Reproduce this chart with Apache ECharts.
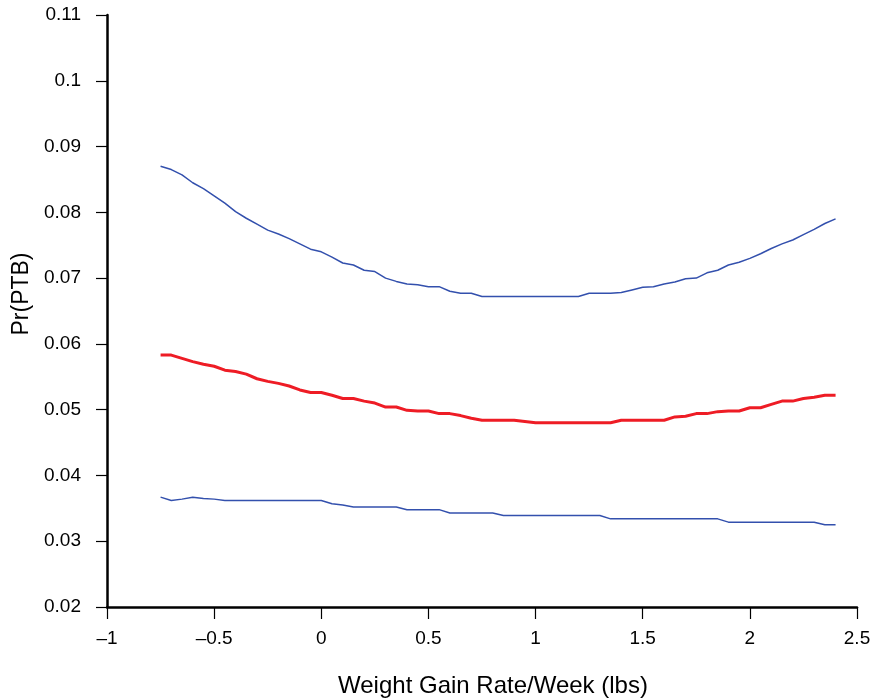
<!DOCTYPE html>
<html>
<head>
<meta charset="utf-8">
<script src="https://cdn.jsdelivr.net/npm/echarts@6/dist/echarts.min.js"></script>
<style>html,body{margin:0;padding:0;background:#fff}#c{width:880px;height:700px}</style>
</head>
<body>
<div id="c"></div>
<script>
var xValues = [-0.75,-0.70,-0.65,-0.60,-0.55,-0.50,-0.45,-0.40,-0.35,-0.30,-0.25,-0.20,-0.15,-0.10,-0.05,
  0.00,0.05,0.10,0.15,0.20,0.25,0.30,0.35,0.40,0.45,0.50,0.55,0.60,0.65,0.70,0.75,0.80,0.85,0.90,0.95,
  1.00,1.05,1.10,1.15,1.20,1.25,1.30,1.35,1.40,1.45,1.50,1.55,1.60,1.65,1.70,1.75,1.80,1.85,1.90,1.95,
  2.00,2.05,2.10,2.15,2.20,2.25,2.30,2.35,2.40];
var upperCI = [0.0870,0.0865,0.0857,0.0845,0.0836,0.0825,0.0814,0.0801,0.0791,0.0782,0.0773,0.0767,0.0760,0.0752,0.0744,
  0.0740,0.0732,0.0723,0.0720,0.0712,0.0710,0.0700,0.0695,0.0691,0.0690,0.0687,0.0687,0.0680,0.0677,0.0677,0.0672,0.0672,0.0672,0.0672,0.0672,
  0.0672,0.0672,0.0672,0.0672,0.0672,0.0677,0.0677,0.0677,0.0678,0.0682,0.0686,0.0687,0.0691,0.0694,0.0699,0.0700,0.0708,0.0712,0.0720,0.0724,
  0.0730,0.0737,0.0745,0.0752,0.0758,0.0766,0.0774,0.0783,0.0790];
var estimate = [0.0583,0.0583,0.0578,0.0573,0.0569,0.0566,0.0560,0.0558,0.0554,0.0547,0.0543,0.0540,0.0536,0.0530,0.0526,
  0.0526,0.0522,0.0517,0.0517,0.0513,0.0510,0.0504,0.0504,0.0499,0.0498,0.0498,0.0494,0.0494,0.0491,0.0487,0.0484,0.0484,0.0484,0.0484,0.0482,
  0.0480,0.0480,0.0480,0.0480,0.0480,0.0480,0.0480,0.0480,0.0484,0.0484,0.0484,0.0484,0.0484,0.0489,0.0490,0.0494,0.0494,0.0497,0.0498,0.0498,
  0.0503,0.0503,0.0508,0.0513,0.0513,0.0517,0.0519,0.0522,0.0522];
var lowerCI = [0.0367,0.0362,0.0364,0.0367,0.0365,0.0364,0.0362,0.0362,0.0362,0.0362,0.0362,0.0362,0.0362,0.0362,0.0362,
  0.0362,0.0357,0.0355,0.0352,0.0352,0.0352,0.0352,0.0352,0.0348,0.0348,0.0348,0.0348,0.0343,0.0343,0.0343,0.0343,0.0343,0.0339,0.0339,0.0339,
  0.0339,0.0339,0.0339,0.0339,0.0339,0.0339,0.0339,0.0334,0.0334,0.0334,0.0334,0.0334,0.0334,0.0334,0.0334,0.0334,0.0334,0.0334,0.0329,0.0329,
  0.0329,0.0329,0.0329,0.0329,0.0329,0.0329,0.0329,0.0325,0.0325];

function pairs(ys){ return xValues.map(function(x,i){ return [x, ys[i]]; }); }

var FONT = 'Liberation Sans, Arial, sans-serif';
var chart = echarts.init(document.getElementById('c'), null, {renderer:'canvas'});
chart.setOption({
  animation: false,
  backgroundColor: '#ffffff',
  grid: { left: 107, right: 23, top: 15, bottom: 93, containLabel: false, outerBoundsMode: 'none' },
  xAxis: {
    type: 'value', min: -1, max: 2.5, interval: 0.5,
    name: 'Weight Gain Rate/Week (lbs)', nameLocation: 'middle', nameGap: 67,
    nameTextStyle: { fontFamily: FONT, fontSize: 24, color: '#000', padding: [0,0,0,22] },
    axisLine: { show: true, onZero: false, lineStyle: { color: '#000', width: 2.5 } },
    axisTick: { show: true, length: 12, lineStyle: { color: '#000', width: 1.2 } },
    axisLabel: { margin: 22, fontFamily: FONT, fontSize: 19, color: '#000',
      formatter: function(v){ return String(v).replace('-', '\u2013'); } },
    splitLine: { show: false }
  },
  yAxis: {
    type: 'value', min: 0.02, max: 0.11, interval: 0.01,
    name: 'Pr(PTB)', nameLocation: 'middle', nameGap: 74, nameRotate: 90,
    nameTextStyle: { fontFamily: FONT, fontSize: 23, color: '#000', padding: [0,0,0,34] },
    axisLine: { show: true, onZero: false, lineStyle: { color: '#000', width: 2.5 } },
    axisTick: { show: true, length: 11, lineStyle: { color: '#000', width: 1.2 } },
    axisLabel: { margin: 26, fontFamily: FONT, fontSize: 19, color: '#000',
      formatter: function(v){ return String(parseFloat(v.toFixed(2))); } },
    splitLine: { show: false }
  },
  series: [
    { name: 'Upper', type: 'line', data: pairs(upperCI), showSymbol: false, symbol: 'none',
      lineStyle: { color: '#3350ad', width: 1.5 } },
    { name: 'Estimate', type: 'line', data: pairs(estimate), showSymbol: false, symbol: 'none',
      lineStyle: { color: '#ee1c25', width: 3 } },
    { name: 'Lower', type: 'line', data: pairs(lowerCI), showSymbol: false, symbol: 'none',
      lineStyle: { color: '#3350ad', width: 1.5 } }
  ]
});
</script>
</body>
</html>
